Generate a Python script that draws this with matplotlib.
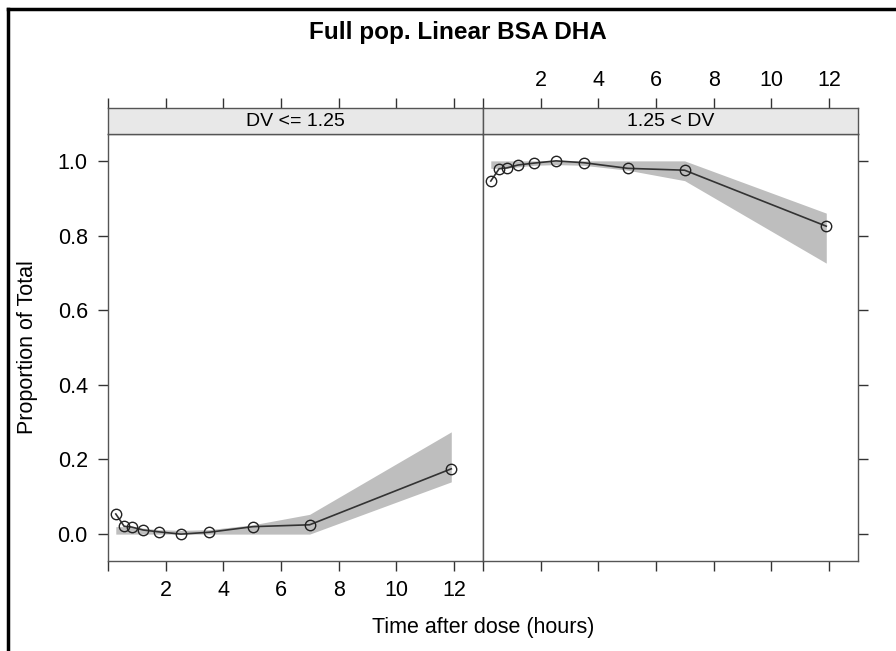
import matplotlib
matplotlib.use("Agg")
import matplotlib.pyplot as plt
from matplotlib.lines import Line2D

plt.rcParams['font.family'] = ['Liberation Sans', 'DejaVu Sans']

# time after dose (hours)
time_h = [0.27, 0.56, 0.82, 1.22, 1.77, 2.53, 3.50, 5.02, 6.99, 11.90]

# DV <= 1.25 panel
low_prop = [0.054, 0.021, 0.019, 0.011, 0.006, 0.0, 0.005, 0.020, 0.025, 0.175]
low_band_lo = [0.0, 0.0, 0.0, 0.0, 0.0, 0.0, 0.0, 0.0, 0.0, 0.14]
low_band_hi = [0.02, 0.02, 0.02, 0.016, 0.012, 0.01, 0.012, 0.025, 0.053, 0.274]

# 1.25 < DV panel
high_prop = [0.946, 0.979, 0.981, 0.989, 0.994, 1.0, 0.995, 0.980, 0.975, 0.825]
high_band_lo = [0.98, 0.98, 0.98, 0.984, 0.988, 0.99, 0.988, 0.975, 0.947, 0.726]
high_band_hi = [1.0, 1.0, 1.0, 1.0, 1.0, 1.0, 1.0, 1.0, 1.0, 0.86]

strip_labels = ['DV <= 1.25', '1.25 < DV']
x_ticks = [0, 2, 4, 6, 8, 10, 12]
x_ticklabels = ['', '2', '4', '6', '8', '10', '12']
y_ticks = [0.0, 0.2, 0.4, 0.6, 0.8, 1.0]

W, H = 896, 651
fig = plt.figure(figsize=(W / 100, H / 100), dpi=100)

frame_col = '#555555'
tick_col = '#333333'
left_px, right_px, mid_px = 108, 858, 483
top_px, bot_px, strip_h = 134, 561, 26
tick_fs = 15.5


def fig_box(x0, y0, x1, y1):
    return [x0 / W, 1 - y1 / H, (x1 - x0) / W, (y1 - y0) / H]


panels = [
    (low_prop, low_band_lo, low_band_hi, left_px, mid_px),
    (high_prop, high_band_lo, high_band_hi, mid_px, right_px),
]

for i, (prop, lo, hi, x0, x1) in enumerate(panels):
    ax = fig.add_axes(fig_box(x0, top_px, x1, bot_px))
    ax.fill_between(time_h, lo, hi, color='#BEBEBE', linewidth=0, zorder=1)
    ax.plot(time_h, prop, color='#333333', linewidth=1.2, marker='o',
            markersize=7.5, markerfacecolor='none', markeredgecolor='#222222',
            markeredgewidth=1.0, zorder=3)
    ax.set_xlim(0, 13.0)
    ax.set_ylim(-0.072, 1.072)
    for s in ax.spines.values():
        s.set_color(frame_col)
        s.set_linewidth(1.0)
    ax.set_xticks(x_ticks)
    ax.set_yticks(y_ticks)
    ax.tick_params(direction='out', length=7.5, width=1.0, color=tick_col,
                   labelsize=tick_fs, pad=6)
    if i == 0:
        ax.set_xticklabels(x_ticklabels)
        ax.set_yticklabels(['%.1f' % v for v in y_ticks])
        ax.tick_params(axis='y', left=True, right=False, labelleft=True, pad=7)
        ax.set_ylabel('Proportion of Total', fontsize=15.5, labelpad=14)
    else:
        ax.set_xticklabels([])
        ax.tick_params(axis='y', left=False, right=True,
                       labelleft=False, labelright=False)

    # strip with the top ticks
    sax = fig.add_axes(fig_box(x0, top_px - strip_h, x1, top_px))
    sax.set_facecolor('#E8E8E8')
    sax.set_xlim(0, 13.0)
    sax.set_ylim(0, 1)
    sax.set_yticks([])
    for s in sax.spines.values():
        s.set_color(frame_col)
        s.set_linewidth(1.0)
    sax.set_xticks(x_ticks)
    sax.tick_params(axis='x', bottom=False, top=True, labelbottom=False,
                    direction='out', length=7.5, width=1.0, color=tick_col,
                    labelsize=tick_fs, pad=5)
    if i == 1:
        sax.set_xticklabels(x_ticklabels)
        sax.tick_params(axis='x', labeltop=True)
    else:
        sax.tick_params(axis='x', labeltop=False)
    sax.text(0.5, 0.5, strip_labels[i], transform=sax.transAxes,
             ha='center', va='center', fontsize=14)

fig.text(mid_px / W, 1 - 628 / H, 'Time after dose (hours)',
         ha='center', va='center', fontsize=15.5)
fig.text(458 / W, 1 - 38.5 / H, 'Full pop. Linear BSA DHA',
         ha='center', va='baseline', fontsize=17.5, fontweight='bold')

# outer frame (left and top edges visible)
fig.add_artist(Line2D([8 / W, 8 / W], [0, 1 - 9 / H], color='black',
                      linewidth=2.5, transform=fig.transFigure))
fig.add_artist(Line2D([8 / W, 1], [1 - 9 / H, 1 - 9 / H], color='black',
                      linewidth=2.5, transform=fig.transFigure))

fig.savefig('out.png', dpi=100)
